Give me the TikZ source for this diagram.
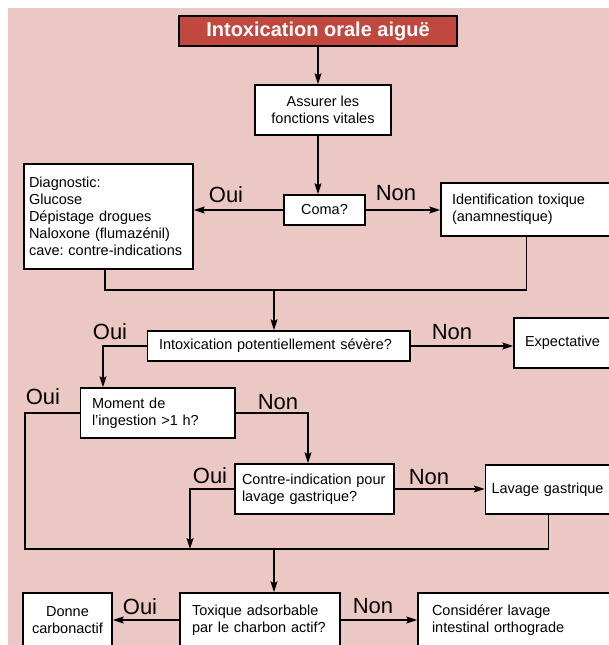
\documentclass[tikz,border=0pt]{standalone}
\usepackage{fontspec}
\setmainfont{Liberation Sans}
\frenchspacing
\usetikzlibrary{arrows.meta,calc}
\definecolor{c0}{RGB}{236,200,196}
\definecolor{c1}{RGB}{192,72,62}
\tikzset{%
  box/.style={draw,fill=white,line width=1.5pt,inner sep=0pt,
    font=\fontsize{14.5}{17}\selectfont},
  lbox/.style 2 args={box,align=left,text width=#1,inner xsep=#2},
  cbox/.style={box,align=center},
  arr/.style={line width=1.4pt,-{Stealth[length=11pt,width=7pt,inset=2pt]}},
  ln/.style={line width=1.4pt},
  lab/.style={inner sep=0pt,font=\fontsize{22}{22}\selectfont}
}
\begin{document}
\begin{tikzpicture}[x=1pt,y=-1pt]
  \useasboundingbox (0,0) rectangle (609,645);
  \fill[c0] (8,8) rectangle (612,648);
  %% boxes
  \node[box,fill=c1,line width=1.8pt,minimum width=278pt,minimum height=30pt,
    text=white,font=\bfseries\fontsize{20}{20}\selectfont] (title) at (318,31) {Intoxication orale aiguë};
  \node[cbox,minimum width=136pt,minimum height=50pt] (assur) at (323,110) {Assurer les\\fonctions vitales};
  \node[cbox,minimum width=81pt,minimum height=30pt] (coma) at (324.5,210) {Coma?};
  \node[lbox={159pt}{5pt},minimum height=105pt] (diag) at (108.5,216.5)
    {Diagnostic:\\Glucose\\Dépistage drogues\\Naloxone (flumazénil)\\cave: contre-indications};
  \node[lbox={149pt}{11pt},minimum height=53pt] (ident) at (526.5,209.5) {Identification toxique\\(anamnestique)};
  \node[lbox={239.5pt}{11.5pt},minimum height=30pt] (intox) at (278.75,346) {Intoxication potentiellement sévère?};
  \node[lbox={76pt}{11pt},minimum height=50pt] (expect) at (563,343) {Expectative};
  \node[lbox={131.5pt}{11.5pt},minimum height=50pt] (moment) at (157.75,413) {Moment de\\l’ingestion >1~h?};
  \node[lbox={145pt}{7pt},minimum height=50pt] (contre) at (314.5,489) {Contre-indication pour\\lavage gastrique?};
  \node[lbox={114.5pt}{6pt},minimum height=49pt] (lavage) at (548.75,489.5) {Lavage gastrique};
  \node[cbox,minimum width=89pt,minimum height=54pt] (donne) at (67.5,620) {Donne\\carbonactif};
  \node[lbox={136pt}{12pt},minimum height=54pt] (toxique) at (260,620) {Toxique adsorbable\\par le charbon actif?};
  \node[lbox={166pt}{14pt},minimum height=54pt] (consid) at (515,620) {Considérer lavage\\intestinal orthograde};
  %% connectors
  \draw[arr] (title.south) -- (title.south |- assur.north);
  \draw[arr] (assur.south -| title.south) -- (coma.north -| title.south);
  \draw[arr] (coma.west) -- (diag.east |- coma.west);
  \draw[arr] (coma.east) -- (ident.west |- coma.east);
  \coordinate (d1) at (105,290);
  \coordinate (j1) at (274,290);
  \draw[ln] (diag.south -| d1) -- (d1) -- (ident.south |- d1) -- (ident.south);
  \draw[arr] (j1) -- (j1 |- intox.north);
  \draw[arr] (intox.east) -- (expect.west |- intox.east);
  \coordinate (b1) at (103,346);
  \draw[arr] (intox.west) -- (b1) -- (b1 |- moment.north);
  \coordinate (j2) at (25,549);
  \coordinate (j3) at (274,549);
  \draw[ln] (moment.west) -- (moment.west -| j2) -- (j2) -- (lavage.south |- j2) -- (lavage.south);
  \coordinate (b2) at (308,413);
  \draw[arr] (moment.east) -- (b2) -- (b2 |- contre.north);
  \coordinate (b3) at (190,489);
  \draw[arr] (contre.west) -- (b3) -- (b3 |- j2);
  \draw[arr] (contre.east) -- (lavage.west |- contre.east);
  \draw[arr] (j3) -- (j3 |- toxique.north);
  \draw[arr] (toxique.west) -- (donne.east |- toxique.west);
  \draw[arr] (toxique.east) -- (consid.west |- toxique.east);
  %% labels
  \node[lab] (oui1) at (226,194.5) {Oui};
  \node[lab] (non1) at (396,193) {Non};
  \node[lab] (oui2) at (110,332) {Oui};
  \node[lab] (non2) at (452,332) {Non};
  \node[lab] (oui3) at (43,397) {Oui};
  \node[lab] (non3) at (278,402) {Non};
  \node[lab] (oui4) at (210,476) {Oui};
  \node[lab] (non4) at (429,477) {Non};
  \node[lab] (oui5) at (140,607) {Oui};
  \node[lab] (non5) at (373,606) {Non};
\end{tikzpicture}
\end{document}
